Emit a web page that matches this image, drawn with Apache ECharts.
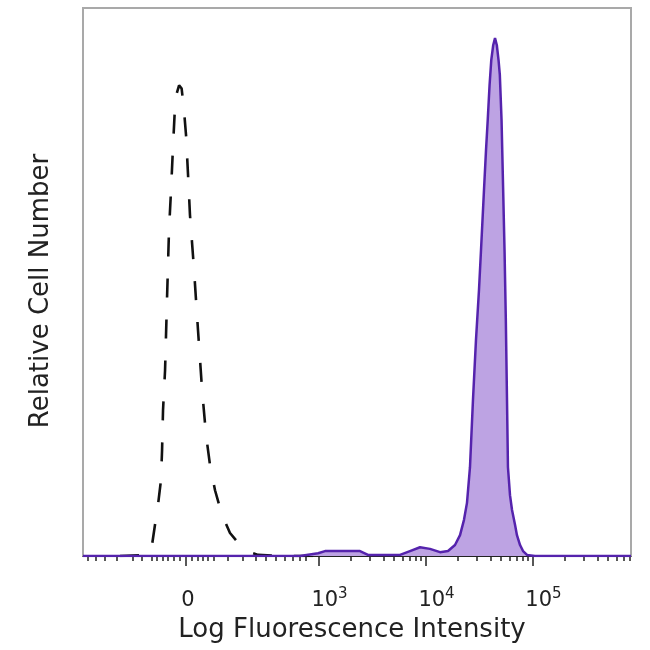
<!DOCTYPE html>
<html>
<head>
<meta charset="utf-8">
<script src="https://cdn.jsdelivr.net/npm/echarts@6/dist/echarts.min.js"></script>
<style>html,body{margin:0;padding:0;background:#fff}#c{width:650px;height:650px}</style>
</head>
<body>
<div id="c"></div>
<script>
// Display scale: decade units (10^3 -> 3, 10^4 -> 4, 10^5 -> 5), biexponential near zero
const xMin = 0.794, xMax = 5.916;
const majorTicks = [1.757, 3, 4, 5];
const majorLabels = ['0', '3', '4', '5'];
const lowTicks = [0.841, 0.916, 1.000, 1.112, 1.262, 1.346, 1.439, 1.486, 1.542, 1.589, 1.645, 1.701,
  1.813, 1.869, 1.916, 1.963, 2.019, 2.150, 2.290, 2.411, 2.505, 2.598, 2.682, 2.757, 2.822, 2.879];
const logMultipliers = [2, 3, 4, 5, 6, 7, 8, 9];

// Isotype control (dashed)
const isoX = [1.140, 1.402, 1.439, 1.467, 1.495, 1.523, 1.533, 1.542, 1.561, 1.579, 1.598, 1.617, 1.636, 1.650,
  1.668, 1.692, 1.716, 1.736, 1.757, 1.776, 1.794, 1.832, 1.869, 1.907, 1.944, 1.981, 2.028, 2.093, 2.168,
  2.262, 2.355, 2.430, 2.636, 3.000];
const isoY = [0, 0.2, 2.0, 5.7, 9.3, 13.9, 19.3, 26.6, 33.9, 46.7, 59.5, 66.8, 75.0, 80.5,
  84.3, 85.9, 85.3, 81.8, 76.8, 69.5, 62.2, 52.2, 41.2, 30.3, 22.1, 16.6, 12.0, 7.5, 4.2,
  2.0, 0.7, 0.2, 0, 0];

// Stained sample (filled purple)
const stX = [0.794, 2.822, 2.991, 3.056, 3.383, 3.458, 3.757, 3.850, 3.944, 4.037, 4.131, 4.206, 4.271, 4.318,
  4.355, 4.383, 4.411, 4.439, 4.467, 4.495, 4.514, 4.542, 4.561, 4.577, 4.594, 4.610, 4.628, 4.645, 4.662,
  4.678, 4.690, 4.706, 4.720, 4.734, 4.746, 4.757, 4.766, 4.785, 4.804, 4.832, 4.850, 4.879, 4.907, 4.944,
  5.019, 5.916];
const stY = [0, 0, 0.5, 0.9, 0.9, 0.2, 0.2, 0.9, 1.6, 1.3, 0.7, 0.9, 2.0, 3.8,
  6.6, 9.7, 16.2, 28.5, 39.4, 48.5, 55.8, 66.8, 74.1, 79.6, 85.9, 90.5, 93.2, 94.5, 93.2,
  90.5, 87.8, 79.6, 67.7, 55.8, 43.1, 28.5, 16.2, 11.1, 8.4, 5.7, 3.8, 2.0, 0.9, 0.2,
  0, 0];

const minorTicks = lowTicks.slice();
[3, 4, 5].forEach(d => logMultipliers.forEach(k => {
  const v = d + Math.log10(k);
  if (v < xMax) minorTicks.push(v);
}));

const zip = (a, b) => a.map((v, i) => [v, b[i]]);
const FONT = 'DejaVu Sans';

const chart = echarts.init(document.getElementById('c'));
chart.setOption({
  animation: false,
  grid: { left: 83, right: 19, top: 8, bottom: 94, show: true, borderColor: '#a9a9a9', borderWidth: 2 },
  xAxis: [
    {
      type: 'value', min: xMin, max: xMax, position: 'bottom',
      splitLine: { show: false },
      axisLine: { show: true, lineStyle: { color: '#222', width: 1 } },
      axisTick: { show: true, customValues: majorTicks, length: 10, lineStyle: { color: '#222', width: 1.5 } },
      axisLabel: {
        customValues: majorTicks, margin: 31,
        formatter: function (v) {
          let idx = 0, best = 1e9;
          majorTicks.forEach((t, i) => { if (Math.abs(t - v) < best) { best = Math.abs(t - v); idx = i; } });
          const lab = majorLabels[idx];
          if (lab === '0') return '{p0|}{b0|0}';
          return '{p|}{b|10}{s|' + lab + '}';
        },
        rich: {
          p0: { width: 4 },
          p: { width: 21 },
          b0: { fontFamily: FONT, fontSize: 21, color: '#222', padding: [3, 0, 0, 0] },
          b: { fontFamily: FONT, fontSize: 21, color: '#222' },
          s: { fontFamily: FONT, fontSize: 15, color: '#222', padding: [0, 0, 12, 0] }
        }
      },
      name: 'Log Fluorescence Intensity', nameLocation: 'middle', nameGap: 61,
      nameTextStyle: { fontFamily: FONT, fontSize: 26, color: '#222', padding: [0, 10, 0, 0] }
    },
    {
      type: 'value', min: xMin, max: xMax, position: 'bottom',
      splitLine: { show: false },
      axisLine: { show: false },
      axisTick: { show: true, customValues: minorTicks, length: 5, lineStyle: { color: '#222', width: 1.5 } },
      axisLabel: { show: false }
    }
  ],
  yAxis: {
    type: 'value', min: 0, max: 100,
    splitLine: { show: false }, axisLine: { show: false }, axisTick: { show: false }, axisLabel: { show: false },
    name: 'Relative Cell Number', nameLocation: 'middle', nameGap: 29,
    nameTextStyle: { fontFamily: FONT, fontSize: 26, color: '#222', padding: [0, 18, 0, 0] }
  },
  series: [
    {
      type: 'line', xAxisIndex: 0, data: zip(isoX, isoY), symbol: 'none', z: 2,
      lineStyle: { color: '#111', width: 2.6, type: [19, 22] }
    },
    {
      type: 'line', xAxisIndex: 0, data: zip(stX, stY), symbol: 'none', z: 3,
      lineStyle: { color: '#5523ad', width: 2.5 },
      areaStyle: { color: '#bda3e3', opacity: 1 }
    }
  ]
});
</script>
</body>
</html>
